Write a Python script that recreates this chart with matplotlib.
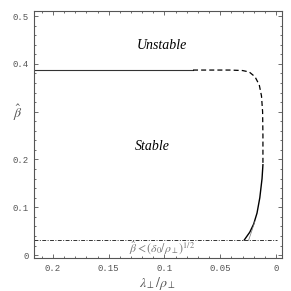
import numpy as np
import matplotlib.pyplot as plt
from matplotlib.ticker import MultipleLocator, FixedLocator

plt.rcParams['mathtext.fontset'] = 'stix'

# boundary values
beta_crit = 0.387          # horizontal solid boundary
lam_flat = [0.2170, 0.0744]
beta_floor = 0.0315        # (delta0/rho_perp)^(1/2)
lam_floor = [0.2170, -0.0010]

lam_dash = [0.0744, 0.0550, 0.0413, 0.0300, 0.0240, 0.0188, 0.0150, 0.0130, 0.0120, 0.0117, 0.0117]
beta_dash = [0.387, 0.387, 0.387, 0.386, 0.383, 0.373, 0.356, 0.333, 0.300, 0.250, 0.189]

lam_solid = [0.0117, 0.0125, 0.0145, 0.0170, 0.0200, 0.0235, 0.0285]
beta_solid = [0.189, 0.160, 0.120, 0.088, 0.065, 0.048, 0.0315]

lam_thin = [0.0190, 0.0215, 0.0245]
beta_thin = [0.070, 0.052, 0.0315]

xticks = [0.2, 0.15, 0.1, 0.05, 0.0]
xlabels = ['0.2', '0.15', '0.1', '0.05', '0']
yticks = [0.0, 0.1, 0.2, 0.3, 0.4, 0.5]
ylabels = ['0', '0.1', '0.2', '', '0.4', '0.5']

fig = plt.figure(figsize=(2.91, 2.91), dpi=100)
ax = fig.add_axes([34/291, 33/291, 248/291, 247/291])

ax.plot(lam_flat, [beta_crit, beta_crit], color='#333333', lw=0.8)
ax.plot(lam_dash, beta_dash, color='black', lw=0.9, dashes=(4, 2.5))
ax.plot(lam_solid, beta_solid, color='black', lw=1.0)
ax.plot(lam_thin, beta_thin, color='#777777', lw=0.5)
ax.plot(lam_floor, [beta_floor, beta_floor], color='#333333', lw=0.7,
        dashes=(4, 1.5, 1, 1.5))

ax.set_xlim(0.217, -0.0054)
ax.set_ylim(-0.006, 0.5105)

ax.xaxis.set_major_locator(FixedLocator(xticks))
ax.set_xticklabels(xlabels)
ax.xaxis.set_minor_locator(MultipleLocator(0.01))
ax.yaxis.set_major_locator(FixedLocator(yticks))
ax.set_yticklabels(ylabels)
ax.yaxis.set_minor_locator(MultipleLocator(0.02))

tick_font = dict(family='Liberation Mono', size=6.5, color='#555555')
for lab in ax.get_xticklabels() + ax.get_yticklabels():
    lab.set(**tick_font)

ax.tick_params(which='both', direction='in', top=True, right=True,
               color='#555555', width=0.6, pad=4)
ax.tick_params(which='major', length=3)
ax.tick_params(which='minor', length=1.5)
for s in ax.spines.values():
    s.set_color('#555555')
    s.set_linewidth(0.8)

ax.set_xlabel(r'$\lambda_\perp/\rho_\perp$', fontsize=10, color='#555555', labelpad=2)
ax.set_ylabel(r'$\hat{\beta}$', fontsize=10, color='#555555', rotation=0, va='center')
ax.yaxis.set_label_coords(-0.065, 0.587)

serif = dict(family='Liberation Serif', style='italic', size=10, color='black',
             ha='center', va='center')
ax.text(0.102, 0.439, 'Unstable', **serif)
ax.text(0.111, 0.227, 'Stable', **serif)
ax.text(0.102, 0.0135, r'$\hat{\beta}<(\delta_0/\rho_\perp)^{1/2}$', fontsize=8.5,
        color='#777777', ha='center', va='center')

fig.savefig('out.png', dpi=100)
